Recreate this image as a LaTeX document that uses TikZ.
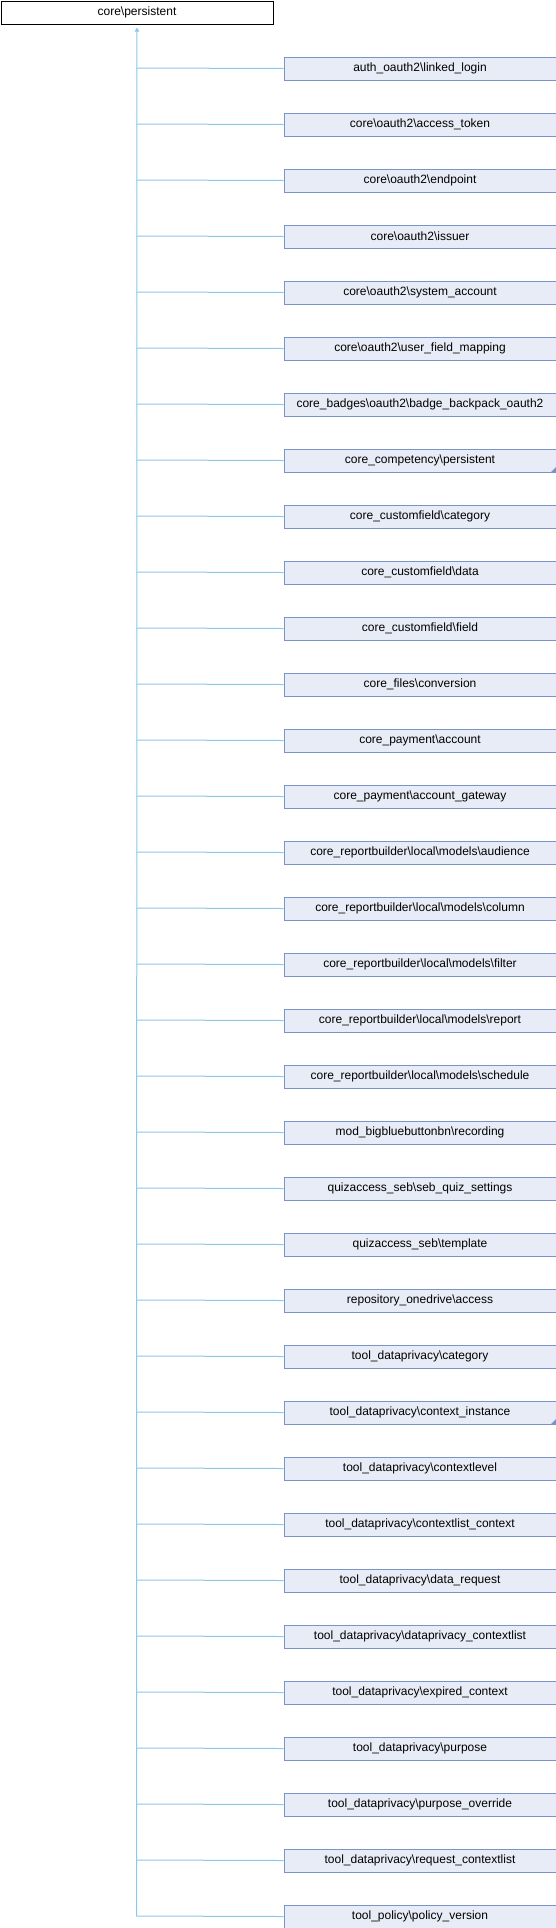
\documentclass[tikz,border=0pt]{standalone}
\usepackage{fontspec}
\setmainfont{Liberation Sans}
\usetikzlibrary{arrows.meta}
\definecolor{boxfill}{HTML}{E8ECF6}
\definecolor{boxline}{HTML}{7A93C8}
\definecolor{edgecol}{HTML}{8CC6EC}
\tikzset{
  basebox/.style={draw=black, fill=white, line width=1pt, minimum width=272pt, minimum height=23pt, inner sep=0pt, anchor=north west, font=\fontsize{12}{14}\selectfont},
  childbox/.style={draw=boxline, fill=boxfill, line width=1pt, minimum width=272pt, minimum height=23pt, inner sep=0pt, anchor=north west, font=\fontsize{12}{14}\selectfont},
  edge/.style={draw=edgecol, line width=1pt},
  more/.style={fill=boxline, draw=none}
}
\begin{document}
\begin{tikzpicture}[x=1pt,y=-1pt]
\useasboundingbox (0,0) rectangle (556,1928);
\node[basebox] (top) at (0.5,0.5) {core\textbackslash{}persistent};
\foreach \i/\t in {
0/auth\_oauth2\textbackslash{}linked\_login,
1/core\textbackslash{}oauth2\textbackslash{}access\_token,
2/core\textbackslash{}oauth2\textbackslash{}endpoint,
3/core\textbackslash{}oauth2\textbackslash{}issuer,
4/core\textbackslash{}oauth2\textbackslash{}system\_account,
5/core\textbackslash{}oauth2\textbackslash{}user\_field\_mapping,
6/core\_badges\textbackslash{}oauth2\textbackslash{}badge\_backpack\_oauth2,
7/core\_competency\textbackslash{}persistent,
8/core\_customfield\textbackslash{}category,
9/core\_customfield\textbackslash{}data,
10/core\_customfield\textbackslash{}field,
11/core\_files\textbackslash{}conversion,
12/core\_payment\textbackslash{}account,
13/core\_payment\textbackslash{}account\_gateway,
14/core\_reportbuilder\textbackslash{}local\textbackslash{}models\textbackslash{}audience,
15/core\_reportbuilder\textbackslash{}local\textbackslash{}models\textbackslash{}column,
16/core\_reportbuilder\textbackslash{}local\textbackslash{}models\textbackslash{}filter,
17/core\_reportbuilder\textbackslash{}local\textbackslash{}models\textbackslash{}report,
18/core\_reportbuilder\textbackslash{}local\textbackslash{}models\textbackslash{}schedule,
19/mod\_bigbluebuttonbn\textbackslash{}recording,
20/quizaccess\_seb\textbackslash{}seb\_quiz\_settings,
21/quizaccess\_seb\textbackslash{}template,
22/repository\_onedrive\textbackslash{}access,
23/tool\_dataprivacy\textbackslash{}category,
24/tool\_dataprivacy\textbackslash{}context\_instance,
25/tool\_dataprivacy\textbackslash{}contextlevel,
26/tool\_dataprivacy\textbackslash{}contextlist\_context,
27/tool\_dataprivacy\textbackslash{}data\_request,
28/tool\_dataprivacy\textbackslash{}dataprivacy\_contextlist,
29/tool\_dataprivacy\textbackslash{}expired\_context,
30/tool\_dataprivacy\textbackslash{}purpose,
31/tool\_dataprivacy\textbackslash{}purpose\_override,
32/tool\_dataprivacy\textbackslash{}request\_contextlist,
33/tool\_policy\textbackslash{}policy\_version}{
  \node[childbox] (c\i) at (283.5,{56.5+56*\i}) {\t};
  \coordinate (j\i) at (136.5,{68+56*\i});
  \draw[edge] (c\i.west) -- (j\i);
}
\draw[edge, -{Triangle[length=4pt,width=4.5pt]}, shorten >=3pt] (j33) -- (top.south);
\fill[more] (c7.south east) -- ++(0,-6) -- ++(-6,6) -- cycle;
\fill[more] (c24.south east) -- ++(0,-6) -- ++(-6,6) -- cycle;
\end{tikzpicture}
\end{document}
